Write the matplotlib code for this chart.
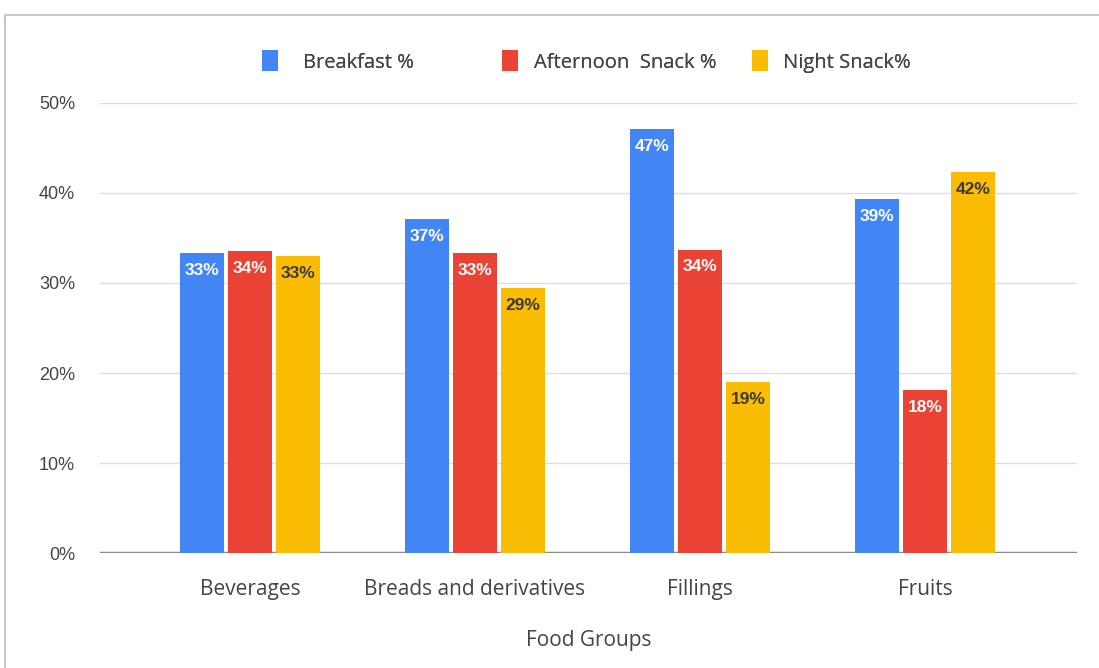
import numpy as np
from matplotlib import pyplot as plt
from matplotlib.patches import Rectangle, Patch

# chart data
groups = ['Beverages', 'Breads and derivatives', 'Fillings', 'Fruits']
series_names = ['Breakfast %', 'Afternoon  Snack %', 'Night Snack%']
breakfast = [33.3, 37.1, 47.1, 39.3]
afternoon = [33.5, 33.3, 33.7, 18.1]
night = [33.0, 29.4, 19.0, 42.3]
y_ticks = [0, 10, 20, 30, 40, 50]

colors = ['#4285F4', '#EA4335', '#FBBC04']
label_colors = ['white', 'white', '#3a3a3a']
text_gray = '#444444'

fig = plt.figure(figsize=(10.99, 6.68), dpi=100)
ax = fig.add_axes([0.091, 0.172, 0.889, 0.674])

# outer frame of the chart card
fig.patches.append(Rectangle((0.005, -0.05), 1.1, 1.028, transform=fig.transFigure,
                             fill=False, edgecolor='#c8c8c8', linewidth=1.5))

x = np.arange(len(groups))
step = 0.213
width = 0.196
for i, vals in enumerate([breakfast, afternoon, night]):
    pos = x + (i - 1) * step
    ax.bar(pos, vals, width=width, color=colors[i], zorder=3)
    for px, v in zip(pos, vals):
        ax.text(px, v - 1.9, f'{round(v):.0f}%', ha='center', va='center',
                color=label_colors[i], fontsize=12.5, fontweight='bold',
                family='Liberation Sans', zorder=4)

ax.set_xlim(-0.667, 3.676)
ax.set_ylim(0, 50)
ax.set_yticks(y_ticks)
ax.set_yticklabels([f'{t}%' for t in y_ticks], family='Liberation Sans')
ax.set_xticks(x)
ax.set_xticklabels(groups, family='Open Sans')
ax.tick_params(axis='y', length=0, labelsize=13, colors=text_gray, pad=18)
ax.tick_params(axis='x', length=0, labelsize=15, colors=text_gray, pad=19)
ax.grid(axis='y', color='#dddddd', linewidth=1, zorder=0)
ax.axhline(0, color='#8a8a8a', linewidth=2.5, zorder=2)
for s in ax.spines.values():
    s.set_visible(False)
ax.set_xlabel('Food Groups', fontsize=15, color=text_gray, labelpad=21, family='Open Sans')

# legend entries placed one by one, like the original
legend_x = [262, 502, 752]
legend_pad = [1.24, 0.8, 0.75]
for c, name, lx, tp in zip(colors, series_names, legend_x, legend_pad):
    leg = fig.legend([Patch(facecolor=c, edgecolor='none')], [name], loc='center left',
                     bbox_to_anchor=(lx / 1099, 0.908), frameon=False, borderpad=0,
                     borderaxespad=0, prop={'family': 'Open Sans', 'size': 14.5},
                     handlelength=0.8, handleheight=1.2, handletextpad=tp,
                     labelcolor=text_gray)
    fig.add_artist(leg)

plt.savefig('out.png', dpi=100)
